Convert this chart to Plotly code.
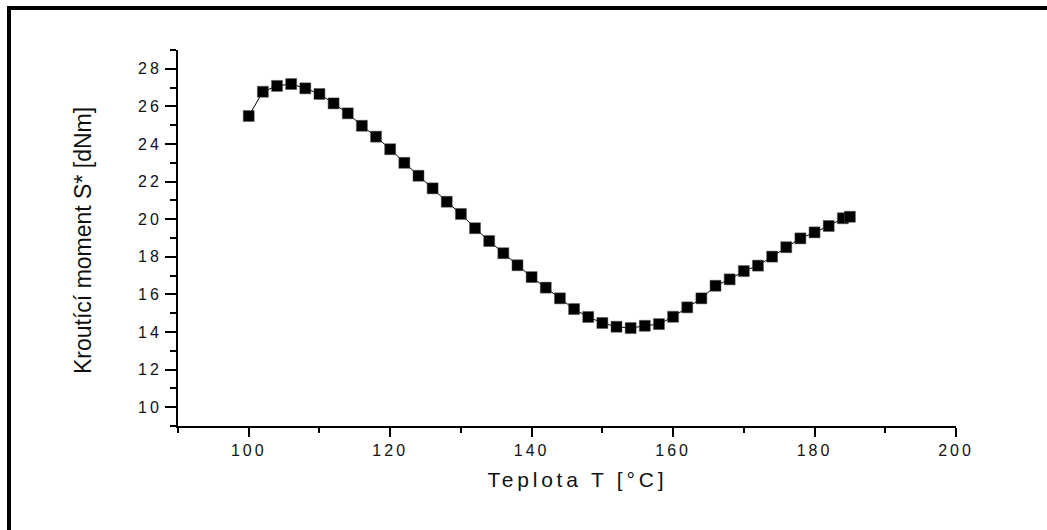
import plotly.graph_objects as go

# Data
temperature = [100, 102, 104, 106, 108, 110, 112, 114, 116, 118,
               120, 122, 124, 126, 128, 130, 132, 134, 136, 138,
               140, 142, 144, 146, 148, 150, 152, 154, 156, 158,
               160, 162, 164, 166, 168, 170, 172, 174, 176, 178,
               180, 182, 184, 185]
torque = [25.49, 26.78, 27.09, 27.19, 26.96, 26.66, 26.16, 25.63, 24.97, 24.39,
          23.72, 23.00, 22.31, 21.64, 20.93, 20.28, 19.52, 18.84, 18.19, 17.55,
          16.92, 16.36, 15.79, 15.22, 14.80, 14.48, 14.28, 14.21, 14.33, 14.42,
          14.81, 15.31, 15.79, 16.46, 16.80, 17.24, 17.53, 18.01, 18.51, 18.98,
          19.30, 19.64, 20.05, 20.13]

x_title = "Teplota T [°C]"
y_title = "Kroutící moment S* [dNm]"

FONT = "Arial, 'Liberation Sans', sans-serif"

W, H = 1047, 530
ML, MR, MT, MB = 178, 91, 50, 104
PW = W - ML - MR
PH = H - MT - MB

def px_to_paper_x(px):
    return (px - ML) / PW

def px_to_paper_y(py):
    return (H - MB - py) / PH

fig = go.Figure()
fig.add_trace(go.Scatter(
    x=temperature, y=torque, mode="lines+markers",
    line=dict(color="black", width=1),
    marker=dict(symbol="square", size=11, color="black",
                line=dict(color="#555555", width=0.5)),
    showlegend=False, hoverinfo="x+y",
))

fig.update_layout(
    width=W, height=H,
    margin=dict(l=ML, r=MR, t=MT, b=MB, pad=0),
    paper_bgcolor="white", plot_bgcolor="white",
    font=dict(family=FONT, color="black", size=16),
    xaxis=dict(
        range=[90, 200], tick0=100, dtick=20, showgrid=False, zeroline=False,
        showline=True, linecolor="black", linewidth=2,
        ticks="outside", ticklen=9, tickwidth=2, tickcolor="black",
        tickfont=dict(size=16, family=FONT, color="#111111"),
        minor=dict(dtick=10, tick0=90, ticks="outside", ticklen=5, tickwidth=2,
                   tickcolor="black", showgrid=False),
        fixedrange=True,
    ),
    yaxis=dict(
        range=[9, 29], tick0=10, dtick=2, showgrid=False, zeroline=False,
        showline=True, linecolor="black", linewidth=2,
        ticks="outside", ticklen=11, tickwidth=2, tickcolor="black",
        tickfont=dict(size=16, family=FONT, color="#111111"),
        minor=dict(dtick=1, tick0=9, ticks="outside", ticklen=6, tickwidth=2,
                   tickcolor="black", showgrid=False),
        fixedrange=True,
    ),
    shapes=[dict(
        type="rect", xref="paper", yref="paper",
        x0=px_to_paper_x(9), x1=px_to_paper_x(W + 40),
        y0=px_to_paper_y(H + 40), y1=px_to_paper_y(8),
        line=dict(color="black", width=4), fillcolor="rgba(0,0,0,0)",
        layer="below",
    )],
    annotations=[
        dict(text=x_title, xref="paper", yref="paper",
             x=px_to_paper_x(577), y=px_to_paper_y(479),
             xanchor="center", yanchor="middle", showarrow=False,
             font=dict(size=21, family=FONT, color="#111111")),
        dict(text=y_title, xref="paper", yref="paper",
             x=px_to_paper_x(83), y=px_to_paper_y(241),
             xanchor="center", yanchor="middle", showarrow=False, textangle=-90,
             font=dict(size=23, family=FONT, color="#111111")),
    ],
)

post = """
document.body.style.margin = '0';
document.body.style.overflow = 'hidden';
var gd = document.getElementById('{plot_id}');
gd.querySelectorAll('.xtick text').forEach(function(t){t.style.letterSpacing='3px';});
gd.querySelectorAll('.ytick text').forEach(function(t){t.style.letterSpacing='3px';});
var ann = gd.querySelectorAll('.annotation-text');
if (ann.length > 0) { ann[0].style.letterSpacing = '3.8px'; }
"""

fig.write_html("out.html", post_script=post, config={"displayModeBar": False})
